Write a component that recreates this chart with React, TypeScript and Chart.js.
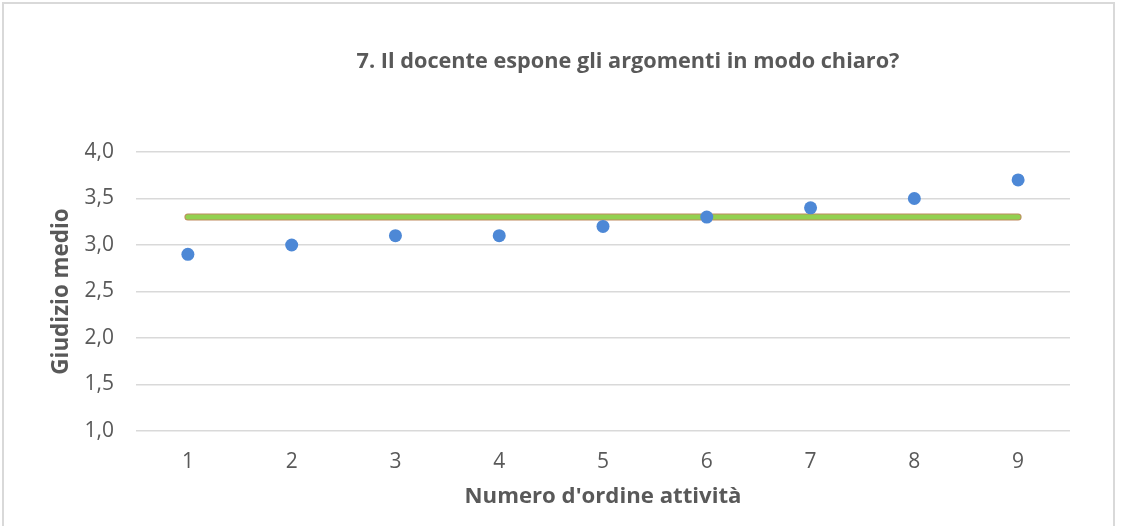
import React, { useEffect, useRef } from "react";
import { Chart, registerables } from "chart.js";

Chart.register(...registerables);

const categories = ["1", "2", "3", "4", "5", "6", "7", "8", "9"];
const giudizioMedio = [2.9, 3.0, 3.1, 3.1, 3.2, 3.3, 3.4, 3.5, 3.7];
const mediaGenerale = [3.3, 3.3, 3.3, 3.3, 3.3, 3.3, 3.3, 3.3, 3.3];
const yMin = 1.0;
const yMax = 4.0;
const yStep = 0.5;
const chartTitle = "7. Il docente espone gli argomenti in modo chiaro?";
const xTitle = "Numero d'ordine attività";
const yTitle = "Giudizio medio";

const TEXT = "#595959";
const FONT = "'Open Sans', 'DejaVu Sans', sans-serif";

export default function App() {
  const ref = useRef<HTMLCanvasElement | null>(null);

  useEffect(() => {
    if (!ref.current) return;
    const titlePlugin = {
      id: "customTitle",
      afterDraw(chart: any) {
        const ctx = chart.ctx;
        ctx.save();
        ctx.font = `bold 21.7px ${FONT}`;
        ctx.fillStyle = TEXT;
        ctx.textAlign = "center";
        ctx.textBaseline = "middle";
        ctx.fillText(chartTitle, chart.width * 0.5627, 58);
        ctx.restore();
      },
    };
    const chart = new Chart(ref.current, {
      type: "line",
      data: {
        labels: categories,
        datasets: [
          {
            label: "Giudizio medio",
            data: giudizioMedio,
            showLine: false,
            pointRadius: 6.5,
            pointHoverRadius: 6.5,
            pointBackgroundColor: "#4d88d6",
            pointBorderColor: "#4d88d6",
            pointBorderWidth: 0,
            order: 0,
          },
          {
            label: "Media",
            data: mediaGenerale,
            borderColor: "#92d050",
            borderWidth: 5,
            borderCapStyle: "round",
            pointRadius: 0,
            tension: 0,
            order: 1,
          },
          {
            label: "Media bordo",
            data: mediaGenerale,
            borderColor: "#c08a5e",
            borderWidth: 7,
            borderCapStyle: "round",
            pointRadius: 0,
            tension: 0,
            order: 2,
          },
        ],
      },
      options: {
        responsive: false,
        animation: false,
        devicePixelRatio: 1,
        layout: { padding: { top: 148, right: 43, left: 0, bottom: 0 } },
        plugins: {
          legend: { display: false },
          tooltip: { enabled: false },
          title: { display: false },
        },
        scales: {
          x: {
            type: "category",
            offset: true,
            grid: { display: false, drawTicks: false },
            border: { display: false },
            ticks: { color: TEXT, font: { family: FONT, size: 21 }, padding: 18 },
            title: {
              display: true,
              text: xTitle,
              color: TEXT,
              font: { family: FONT, size: 22.2, weight: "bold" },
              padding: { top: 0, bottom: 15.7 },
            },
            afterFit: (scale: any) => {
              scale.height = 95;
            },
          },
          y: {
            min: yMin,
            max: yMax,
            ticks: {
              stepSize: yStep,
              color: TEXT,
              font: { family: FONT, size: 21 },
              padding: 22,
              callback: (v: any) => Number(v).toFixed(1).replace(".", ","),
            },
            grid: { color: "#d9d9d9", lineWidth: 1.5, drawTicks: false },
            border: { display: false },
            title: {
              display: true,
              text: yTitle,
              color: TEXT,
              font: { family: FONT, size: 22.4, weight: "bold" },
              padding: { top: 44.6, bottom: 0 },
            },
            afterFit: (scale: any) => {
              scale.width = 132;
            },
          },
        },
      },
      plugins: [titlePlugin],
    } as any);
    return () => chart.destroy();
  }, []);

  return (
    <div
      style={{
        position: "fixed",
        left: 2,
        top: 2,
        width: 1113,
        height: 600,
        border: "2px solid #d9d9d9",
        boxSizing: "border-box",
        background: "#fff",
      }}
    >
      <canvas ref={ref} width={1109} height={522} style={{ display: "block" }} />
    </div>
  );
}
